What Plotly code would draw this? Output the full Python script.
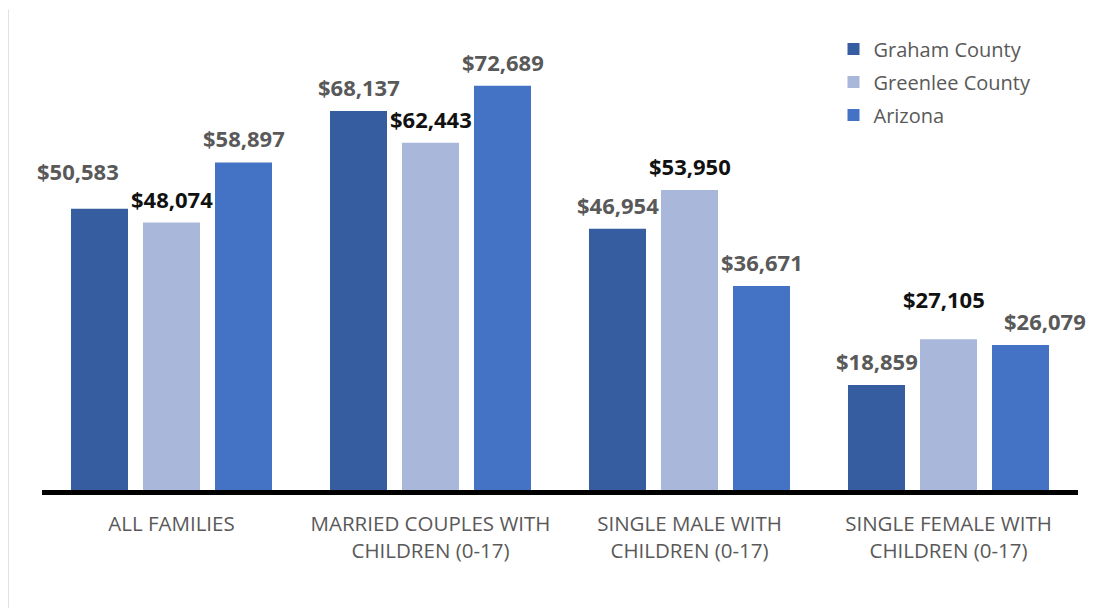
import plotly.graph_objects as go

categories = ["ALL FAMILIES", "MARRIED COUPLES WITH<br>CHILDREN (0-17)",
              "SINGLE MALE WITH<br>CHILDREN (0-17)", "SINGLE FEMALE WITH<br>CHILDREN (0-17)"]
series_names = ["Graham County", "Greenlee County", "Arizona"]
graham = [50583, 68137, 46954, 18859]
greenlee = [48074, 62443, 53950, 27105]
arizona = [58897, 72689, 36671, 26079]

series_values = [graham, greenlee, arizona]
bar_colors = ["#365D9F", "#A9B7DA", "#4472C4"]
label_colors = ["#595959", "#111111", "#595959"]

# label nudges (pixels) to mimic manual placement in the original
label_dx = {(0, 0): -22, (1, 3): -5, (2, 3): 24}
label_dy = {(0, 0): 14, (1, 3): 16}

fig = go.Figure()
for i, (name, vals) in enumerate(zip(series_names, series_values)):
    fig.add_trace(go.Bar(
        x=categories, y=vals, name=name, legendgroup=name,
        marker=dict(color=bar_colors[i], line=dict(width=0)),
        hoverinfo="x+y+name",
    ))

slot = 72
annotations = []
for i, vals in enumerate(series_values):
    for c, v in enumerate(vals):
        annotations.append(dict(
            x=categories[c], y=v, xref="x", yref="y",
            text=f"${v:,}", showarrow=False,
            xshift=(i - 1) * slot + label_dx.get((i, c), 0),
            yshift=24 + label_dy.get((i, c), 0),
            yanchor="middle", xanchor="center",
            font=dict(family="Open Sans", size=22, color=label_colors[i], weight="bold"),
        ))

fig.update_layout(
    width=1096, height=608,
    margin=dict(l=34, r=26, t=36.5, b=125.5),
    paper_bgcolor="white", plot_bgcolor="white",
    barmode="group", bargap=0.166, bargroupgap=0.208,
    font=dict(family="Open Sans", color="#595959"),
    legend=dict(x=0.764, y=1.035, xanchor="left", yanchor="top",
                font=dict(family="Open Sans", size=20, color="#595959"),
                tracegroupgap=4, itemwidth=30, bgcolor="rgba(0,0,0,0)"),
    annotations=annotations,
    shapes=[dict(type="line", xref="paper", yref="paper",
                 x0=-0.0328, x1=-0.0328, y0=1.0796, y1=-0.29,
                 line=dict(color="#D9D9D9", width=1.5))],
    showlegend=True,
)
fig.update_xaxes(showline=True, linecolor="black", linewidth=4.5, ticks="",
                 range=[-0.5, 3.5], ticklabelstandoff=12,
                 tickfont=dict(family="Open Sans", size=20.5, color="#595959"),
                 showgrid=False, zeroline=False)
fig.update_yaxes(range=[0, 80000], visible=False, showgrid=False, zeroline=False)

fig.write_html("out.html")
